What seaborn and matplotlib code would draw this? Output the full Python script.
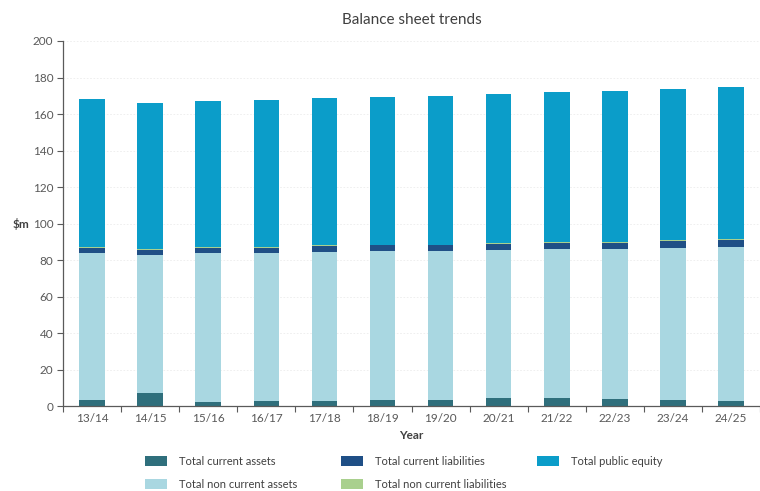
import matplotlib
matplotlib.use("Agg")
import matplotlib.pyplot as plt
from matplotlib.patches import Patch
from matplotlib.ticker import FixedLocator, NullFormatter
import numpy as np
import pandas as pd
import seaborn as sns

years = ["13/14", "14/15", "15/16", "16/17", "17/18", "18/19",
         "19/20", "20/21", "21/22", "22/23", "23/24", "24/25"]
current_assets = [3.5, 7.0, 2.0, 2.5, 3.0, 3.5, 3.5, 4.5, 4.5, 4.0, 3.5, 3.0]
non_current_assets = [80.5, 76.0, 82.0, 81.5, 81.5, 81.5, 81.5, 81.0, 81.5, 82.0, 83.0, 84.0]
current_liabilities = [2.5, 2.5, 2.5, 2.5, 3.0, 3.0, 3.0, 3.5, 3.5, 3.5, 4.0, 4.0]
non_current_liabilities = [0.5, 0.5, 0.5, 0.5, 0.5, 0.5, 0.5, 0.5, 0.5, 0.5, 0.5, 0.5]
public_equity = [81.0, 80.0, 80.0, 80.5, 80.5, 81.0, 81.5, 81.5, 82.0, 82.5, 82.5, 83.5]

series = [
    ("Total current assets", current_assets, "#2f6f7c"),
    ("Total non current assets", non_current_assets, "#a9d7e1"),
    ("Total current liabilities", current_liabilities, "#1f4f86"),
    ("Total non current liabilities", non_current_liabilities, "#a9d08e"),
    ("Total public equity", public_equity, "#0b9dc9"),
]

sns.set_style("white")
plt.rcParams["font.family"] = ["Lato", "DejaVu Sans"]

fig = plt.figure(figsize=(7.6, 4.91), dpi=100)
ax = fig.add_axes([0.083, 0.173, 0.917, 0.7435])

bottom = np.zeros(len(years))
for name, vals, col in series:
    df = pd.DataFrame({"Year": years, "value": vals})
    sns.barplot(data=df, x="Year", y="value", order=years, color=col,
                width=0.44, bottom=bottom.copy(), linewidth=0,
                saturation=1, ax=ax)
    bottom += np.array(vals)

ax.set_xlim(-0.5, len(years) - 0.5)
ax.set_ylim(0, 200)
ax.set_yticks(np.arange(0, 201, 20))
ax.yaxis.grid(True, color="#ececec", linewidth=0.6, linestyle=(0, (2, 2)))
ax.set_axisbelow(True)

for s in ["top", "right"]:
    ax.spines[s].set_visible(False)
for s in ["left", "bottom"]:
    ax.spines[s].set_color("#5a5a5a")
    ax.spines[s].set_linewidth(0.9)

ax.tick_params(axis="y", which="major", length=4, width=0.8, color="#5a5a5a",
               labelsize=8.5, labelcolor="#595959", left=True, pad=3)
ax.tick_params(axis="x", which="major", length=0, labelsize=8.5,
               labelcolor="#595959", pad=5)
ax.xaxis.set_minor_locator(FixedLocator(np.arange(-0.5, len(years), 1.0)))
ax.xaxis.set_minor_formatter(NullFormatter())
ax.tick_params(axis="x", which="minor", length=4, width=0.8, color="#5a5a5a",
               bottom=True)

ax.set_xlabel("Year", fontsize=8.5, fontweight="bold", color="#404040", labelpad=4)
ax.set_ylabel("$m", fontsize=8.5, fontweight="bold", color="#404040",
              rotation=0, ha="right", va="center")
ax.yaxis.set_label_coords(-0.049, 0.5)
ax.set_title("Balance sheet trends", fontsize=11, color="#404040", pad=12)

# Legend laid out in three equal-width columns below the axes
handles = [Patch(facecolor=col, edgecolor="none") for _, _, col in series]
labels = [name for name, _, _ in series]
columns = [(0, 1), (2, 3), (4,)]
col_x = [145 / 760, 341 / 760, 537 / 760]
for idx, x0 in zip(columns, col_x):
    leg = fig.legend([handles[i] for i in idx], [labels[i] for i in idx],
                     loc="upper left", bbox_to_anchor=(x0, 1 - 456 / 491),
                     frameon=False, fontsize=8, labelcolor="#404040",
                     handlelength=2.0, handleheight=1.0, handletextpad=1.1,
                     labelspacing=1.05, borderpad=0, borderaxespad=0)

fig.savefig("out.png", dpi=100, facecolor="white")
